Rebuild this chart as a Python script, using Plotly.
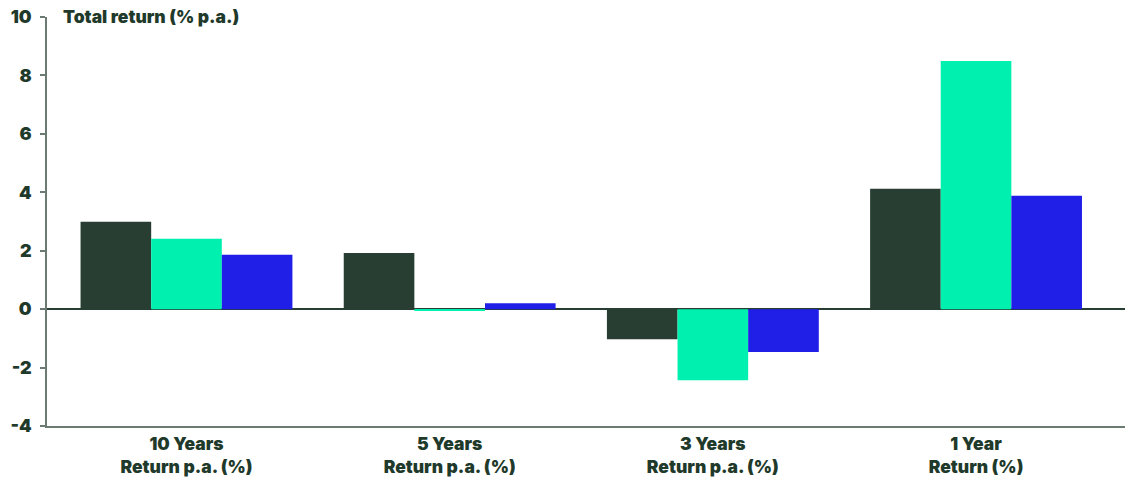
import plotly.graph_objects as go

# Return periods (two-line category labels)
categories = ["10 Years<br>Return p.a. (%)", "5 Years<br>Return p.a. (%)",
              "3 Years<br>Return p.a. (%)", "1 Year<br>Return (%)"]

# Three return series, in %
series_a = [2.99, 1.92, -1.03, 4.12]
series_b = [2.41, -0.03, -2.43, 8.49]
series_c = [1.86, 0.20, -1.47, 3.88]

y_tick_vals = [-4, -2, 0, 2, 4, 6, 8, 10]
y_tick_text = ["-4", "-2", "0", "2", "4", "6", "8", "10"]

DARK = "#283e32"
MINT = "#00f0b0"
BLUE = "#1f1fe8"
AXIS = "#6b7b72"
TEXT = "#1f3a2b"
FONT = "Inter"
WEIGHT = 900

fig = go.Figure()
for vals, col in [(series_a, DARK), (series_b, MINT), (series_c, BLUE)]:
    fig.add_trace(go.Bar(x=list(range(len(categories))), y=vals,
                         marker=dict(color=col, line=dict(width=0)),
                         showlegend=False, hoverinfo="skip"))

fig.update_layout(
    width=1131, height=497,
    margin=dict(l=47, r=6, t=17, b=71, pad=0),
    paper_bgcolor="white", plot_bgcolor="white",
    barmode="group", bargap=0.195, bargroupgap=0,
    font=dict(family=FONT, color=TEXT, size=17, weight=WEIGHT),
    xaxis=dict(
        range=[-0.53, 3.566],
        tickvals=list(range(len(categories))), ticktext=categories,
        showline=True, linecolor=AXIS, linewidth=2,
        showgrid=False, zeroline=False, ticks="",
        ticklabelstandoff=1,
        tickfont=dict(family=FONT, size=17.5, color=TEXT, weight=WEIGHT),
    ),
    yaxis=dict(
        range=[-4, 10], tickvals=y_tick_vals, ticktext=y_tick_text,
        showline=True, linecolor=AXIS, linewidth=1.5,
        ticks="outside", ticklen=5, tickcolor=AXIS, tickwidth=1.5,
        ticklabelstandoff=5,
        showgrid=False,
        zeroline=True, zerolinecolor=DARK, zerolinewidth=2,
        layer="above traces",
        tickfont=dict(family=FONT, size=18, color=TEXT, weight=WEIGHT),
    ),
    annotations=[dict(
        text="Total return (% p.a.)", xref="paper", yref="paper",
        x=0, y=1, xanchor="left", yanchor="middle", xshift=14, yshift=1,
        showarrow=False, font=dict(family=FONT, size=17.5, color=TEXT, weight=WEIGHT),
    )],
)

fig.write_html("out.html")
